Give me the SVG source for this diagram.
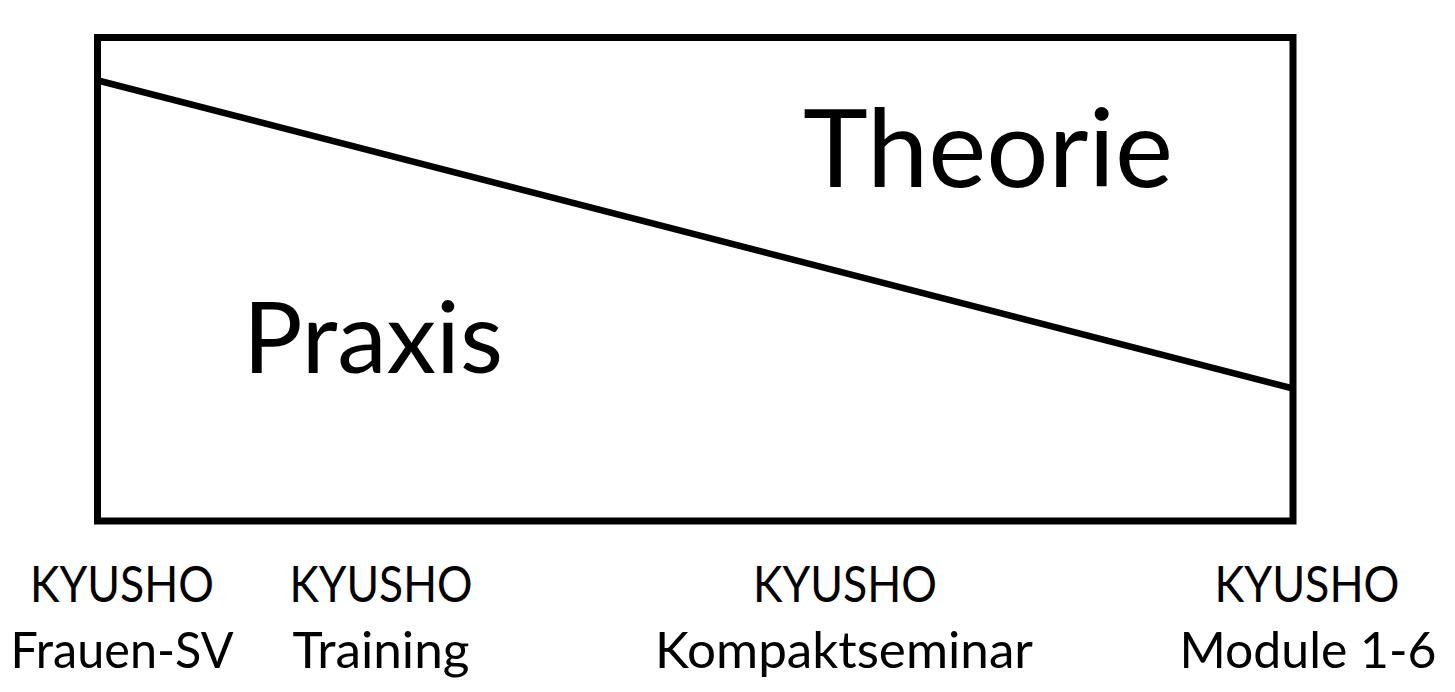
<svg xmlns="http://www.w3.org/2000/svg" width="1455" height="692" viewBox="0 0 1455 692">
<style>
.t{font-family:Lato,"Open Sans","Liberation Sans",sans-serif;fill:#000}
.lbl{font-size:51px;text-anchor:middle}
</style>
<rect width="1455" height="692" fill="#fff"/>
<g id="box">
<rect x="97.5" y="37.5" width="1195.5" height="483.5" fill="none" stroke="#000" stroke-width="7"/>
</g>
<g id="connectors">
<line x1="100" y1="81" x2="1291" y2="388" stroke="#000" stroke-width="6.5"/>
</g>
<g id="theorie"><text class="t" x="803" y="187" font-size="108" textLength="370" lengthAdjust="spacingAndGlyphs">Theorie</text></g>
<g id="praxis"><text class="t" x="243" y="373" font-size="98" textLength="260" lengthAdjust="spacingAndGlyphs">Praxis</text></g>
<g id="label1" class="t lbl">
<text x="122" y="602" textLength="184" lengthAdjust="spacingAndGlyphs">KYUSHO</text>
<text x="122" y="668" textLength="223" lengthAdjust="spacingAndGlyphs">Frauen-SV</text>
</g>
<g id="label2" class="t lbl">
<text x="381" y="602" textLength="183" lengthAdjust="spacingAndGlyphs">KYUSHO</text>
<text x="381" y="668" textLength="177" lengthAdjust="spacingAndGlyphs">Training</text>
</g>
<g id="label3" class="t lbl">
<text x="845" y="602" textLength="184" lengthAdjust="spacingAndGlyphs">KYUSHO</text>
<text x="844" y="668" textLength="378" lengthAdjust="spacingAndGlyphs">Kompaktseminar</text>
</g>
<g id="label4" class="t lbl">
<text x="1307" y="602" textLength="185" lengthAdjust="spacingAndGlyphs">KYUSHO</text>
<text x="1308" y="668" textLength="257" lengthAdjust="spacingAndGlyphs">Module 1-6</text>
</g>
</svg>
